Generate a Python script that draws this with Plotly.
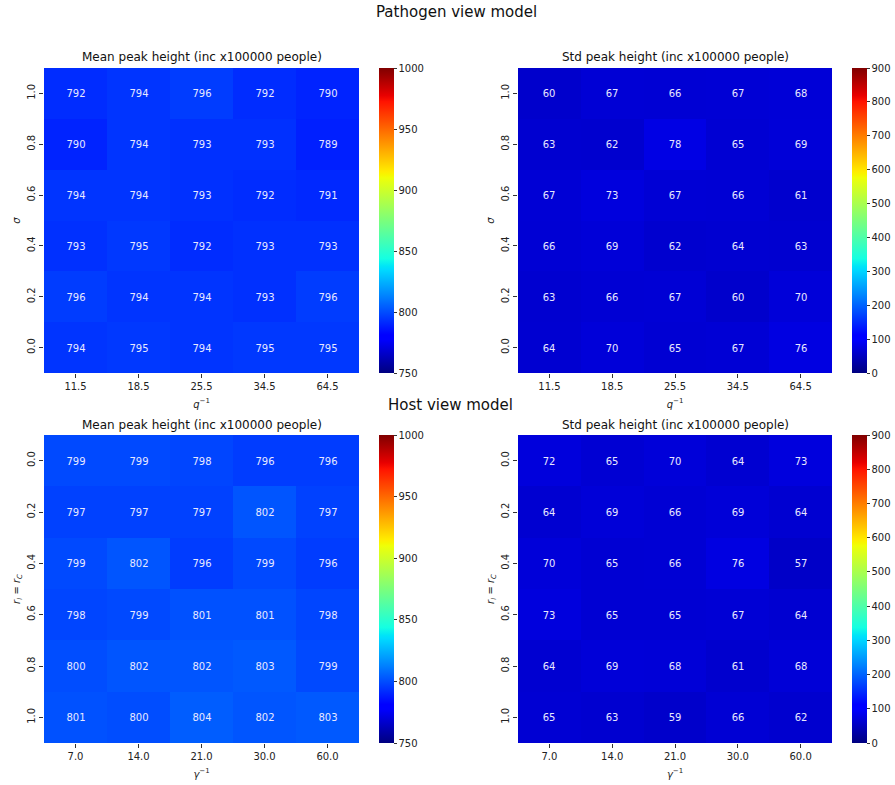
import plotly.graph_objects as go

# ---------------- data ----------------
q_inv = ["11.5", "18.5", "25.5", "34.5", "64.5"]
sigma = ["0.0", "0.2", "0.4", "0.6", "0.8", "1.0"]          # bottom -> top
gamma_inv = ["7.0", "14.0", "21.0", "30.0", "60.0"]
r_vals = ["0.0", "0.2", "0.4", "0.6", "0.8", "1.0"]         # top -> bottom

# Pathogen view model (rows follow sigma order 0.0 .. 1.0)
path_mean = [
    [794, 795, 794, 795, 795],
    [796, 794, 794, 793, 796],
    [793, 795, 792, 793, 793],
    [794, 794, 793, 792, 791],
    [790, 794, 793, 793, 789],
    [792, 794, 796, 792, 790],
]
path_std = [
    [64, 70, 65, 67, 76],
    [63, 66, 67, 60, 70],
    [66, 69, 62, 64, 63],
    [67, 73, 67, 66, 61],
    [63, 62, 78, 65, 69],
    [60, 67, 66, 67, 68],
]
# Host view model (rows follow r order 0.0 .. 1.0)
host_mean = [
    [799, 799, 798, 796, 796],
    [797, 797, 797, 802, 797],
    [799, 802, 796, 799, 796],
    [798, 799, 801, 801, 798],
    [800, 802, 802, 803, 799],
    [801, 800, 804, 802, 803],
]
host_std = [
    [72, 65, 70, 64, 73],
    [64, 69, 66, 69, 64],
    [70, 65, 66, 76, 57],
    [73, 65, 65, 67, 64],
    [64, 69, 68, 61, 68],
    [65, 63, 59, 66, 62],
]
mean_range = [750, 1000]
std_range = [0, 900]
mean_ticks = [750, 800, 850, 900, 950, 1000]
std_ticks = [0, 100, 200, 300, 400, 500, 600, 700, 800, 900]

# ---------------- jet colorscale (matplotlib) ----------------
def seg(points, t):
    for (x0, v0), (x1, v1) in zip(points[:-1], points[1:]):
        if x0 <= t <= x1:
            return v0 if x1 == x0 else v0 + (v1 - v0) * (t - x0) / (x1 - x0)
    return points[-1][1]

R = [(0, 0), (0.35, 0), (0.66, 1), (0.89, 1), (1, 0.5)]
G = [(0, 0), (0.125, 0), (0.375, 1), (0.64, 1), (0.91, 0), (1, 0)]
B = [(0, 0.5), (0.11, 1), (0.34, 1), (0.65, 0), (1, 0)]
stops = sorted(set([p[0] for p in R + G + B] + [i / 40 for i in range(41)]))
jet = [[t, "rgb(%d,%d,%d)" % (round(255 * seg(R, t)), round(255 * seg(G, t)), round(255 * seg(B, t)))]
       for t in stops]

W, H = 895, 785
FONT = "DejaVu Sans"

def px_x(p):
    return p / W

def px_y(p):
    return 1 - p / H

xl = [px_x(44), px_x(359)]
xr = [px_x(518), px_x(832)]
yt = [px_y(373), px_y(68)]
yb = [px_y(743), px_y(435)]

fig = go.Figure()

panels = [
    dict(z=path_mean, x=q_inv, y=sigma, xa="x", ya="y", rng=mean_range, ticks=mean_ticks, cbx=379, ydom=yt),
    dict(z=path_std, x=q_inv, y=sigma, xa="x2", ya="y2", rng=std_range, ticks=std_ticks, cbx=852, ydom=yt),
    dict(z=host_mean, x=gamma_inv, y=r_vals, xa="x3", ya="y3", rng=mean_range, ticks=mean_ticks, cbx=379, ydom=yb),
    dict(z=host_std, x=gamma_inv, y=r_vals, xa="x4", ya="y4", rng=std_range, ticks=std_ticks, cbx=852, ydom=yb),
]

for p in panels:
    fig.add_trace(go.Heatmap(
        z=p["z"], x=p["x"], y=p["y"], xaxis=p["xa"], yaxis=p["ya"],
        zmin=p["rng"][0], zmax=p["rng"][1], colorscale=jet,
        texttemplate="%{z:.0f}", textfont=dict(color="#e8e8ff", size=10, family=FONT),
        xgap=0, ygap=0, hoverinfo="skip",
        colorbar=dict(
            x=px_x(p["cbx"]), xanchor="left", xpad=0, ypad=0,
            y=p["ydom"][0], yanchor="bottom", len=p["ydom"][1] - p["ydom"][0], lenmode="fraction",
            thickness=15, thicknessmode="pixels",
            tickvals=p["ticks"], ticks="outside", ticklen=3, tickwidth=1, tickcolor="#333",
            tickfont=dict(size=10, family=FONT, color="#222"),
            outlinewidth=0,
        ),
    ))

axis_common = dict(ticks="outside", ticklen=4, tickwidth=1, tickcolor="#333",
                   tickfont=dict(size=10, family=FONT, color="#222"),
                   showgrid=False, zeroline=False, showline=False)

lab = dict(size=10, family=FONT, color="#222")

fig.update_layout(
    width=W, height=H, margin=dict(l=0, r=0, t=0, b=0),
    paper_bgcolor="white", plot_bgcolor="white",
    font=dict(family=FONT),
    xaxis=dict(domain=xl, anchor="y", title=dict(text="<i>q</i><sup>−1</sup>", font=lab, standoff=9), **axis_common),
    yaxis=dict(domain=yt, anchor="x", tickangle=-90, title=dict(text="<i>σ</i>", font=lab, standoff=3), **axis_common),
    xaxis2=dict(domain=xr, anchor="y2", title=dict(text="<i>q</i><sup>−1</sup>", font=lab, standoff=9), **axis_common),
    yaxis2=dict(domain=yt, anchor="x2", tickangle=-90, title=dict(text="<i>σ</i>", font=lab, standoff=3), **axis_common),
    xaxis3=dict(domain=xl, anchor="y3", title=dict(text="<i>γ</i><sup>−1</sup>", font=lab, standoff=9), **axis_common),
    yaxis3=dict(domain=yb, anchor="x3", tickangle=-90, autorange="reversed",
                title=dict(text="<i>r<sub>I</sub></i> = <i>r<sub>C</sub></i>", font=lab, standoff=3), **axis_common),
    xaxis4=dict(domain=xr, anchor="y4", title=dict(text="<i>γ</i><sup>−1</sup>", font=lab, standoff=9), **axis_common),
    yaxis4=dict(domain=yb, anchor="x4", tickangle=-90, autorange="reversed",
                title=dict(text="<i>r<sub>I</sub></i> = <i>r<sub>C</sub></i>", font=lab, standoff=3), **axis_common),
)

title_font = dict(size=12, family=FONT, color="#111")
annots = [
    dict(text="Pathogen view model", x=px_x(457), y=px_y(12), font=dict(size=15, family=FONT, color="#111")),
    dict(text="Host view model", x=px_x(450), y=px_y(405), font=dict(size=15, family=FONT, color="#111")),
    dict(text="Mean peak height (inc x100000 people)", x=(xl[0] + xl[1]) / 2, y=px_y(57), font=title_font),
    dict(text="Std peak height (inc x100000 people)", x=(xr[0] + xr[1]) / 2, y=px_y(57), font=title_font),
    dict(text="Mean peak height (inc x100000 people)", x=(xl[0] + xl[1]) / 2, y=px_y(425), font=title_font),
    dict(text="Std peak height (inc x100000 people)", x=(xr[0] + xr[1]) / 2, y=px_y(425), font=title_font),
]
for a in annots:
    fig.add_annotation(xref="paper", yref="paper", showarrow=False, xanchor="center", yanchor="middle", **a)

fig.write_html("out.html")
